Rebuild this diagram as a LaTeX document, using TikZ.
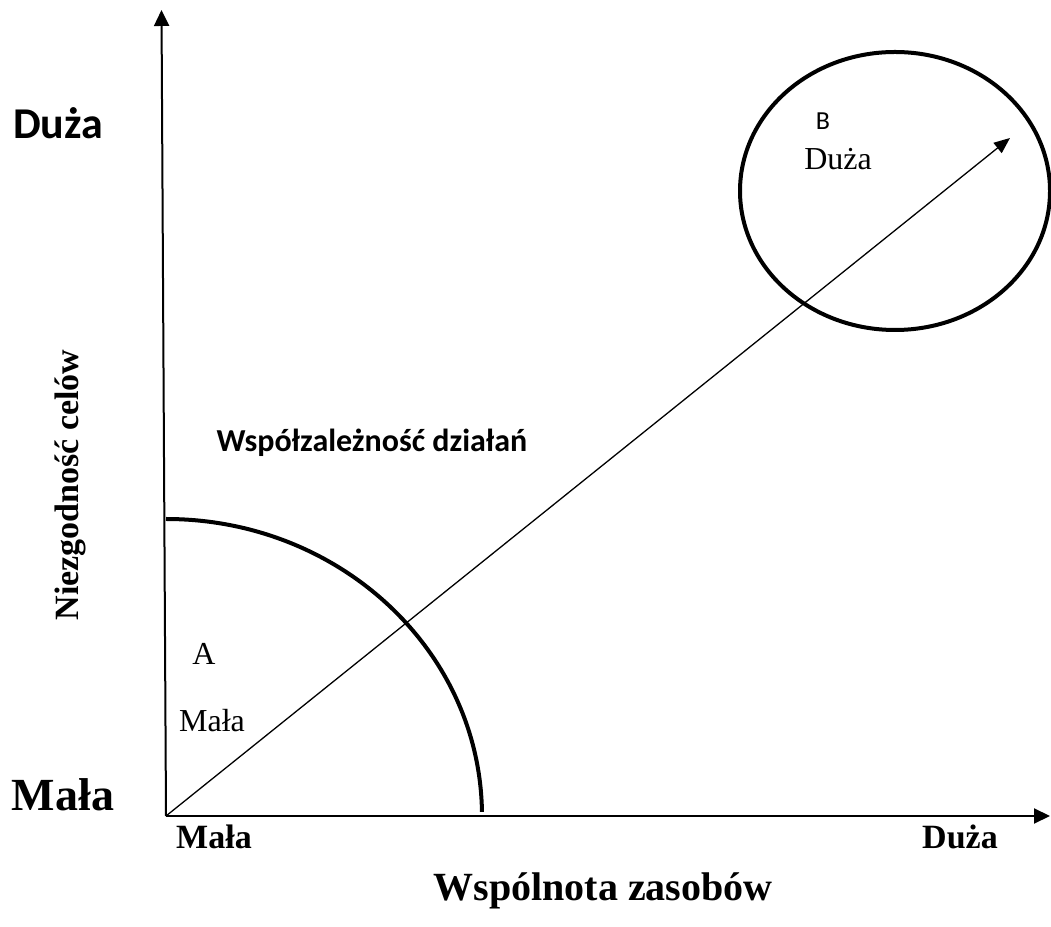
\documentclass[tikz,border=0pt]{standalone}
\usepackage{fontspec}
\setmainfont{Liberation Serif}
\newfontfamily\calib{Carlito}
\usetikzlibrary{arrows.meta,shapes.geometric}
\tikzset{
  axis/.style={line width=2pt,-{Triangle[length=16pt,width=15pt]}},
  diag/.style={line width=1.3pt,-{Triangle[length=16pt,width=13pt]}},
  thick curve/.style={line width=4pt},
  serifb/.style={font=\fontsize{34}{38}\selectfont\bfseries,anchor=base,inner sep=0pt},
  serifr/.style={font=\fontsize{32}{38}\selectfont,anchor=base,inner sep=0pt},
  sansb/.style={font=\fontsize{32}{38}\selectfont\calib\bfseries,anchor=base,inner sep=0pt},
  sansr/.style={font=\fontsize{26}{30}\selectfont\calib,anchor=base,inner sep=0pt},
}
\begin{document}
\begin{tikzpicture}[x=1pt,y=1pt]
\useasboundingbox (0,0) rectangle (1051,926);
\coordinate (O) at (166,110);
\coordinate (Ytop) at (161.5,916);
\coordinate (Xend) at (1050,110);
\coordinate (Dtip) at (1010,788);
\coordinate (arcstart) at (166,407);
% circle
\node[draw,ellipse,thick curve,minimum width=310pt,minimum height=278pt,inner sep=0pt] (circ) at (895,735) {};
% quarter arc
\draw[thick curve] (arcstart) arc[start angle=90,end angle=0.8,x radius=316,y radius=297];
% axes
\draw[axis] (O) -- (Ytop);
\draw[axis] (O) -- (Xend);
\draw[diag] (O) -- (Dtip);
% labels
\node[sansb,font=\fontsize{44}{48}\selectfont\calib\bfseries] (ytopl) at (58,787) {Duża};
\node[serifb,font=\fontsize{46}{50}\selectfont\bfseries] (ylow) at (63,116) {Mała};
\node[serifb] (xlow) at (214,78) {Mała};
\node[serifb] (xhigh) at (960,78) {Duża};
\node[serifb,font=\fontsize{40}{44}\selectfont\bfseries] (xtitle) at (603,26) {Wspólnota zasobów};
\node[serifb,font=\fontsize{34}{38}\selectfont\bfseries,rotate=90,anchor=center] (ytitle) at (70,441) {Niezgodność celów};
\node[sansb] (wsp) at (372,474) {Współzależność działań};
\node[serifr] (A) at (204,261) {A};
\node[serifr] (amala) at (212,194) {Mała};
\node[sansr] (B) at (823,796) {B};
\node[serifr] (bduza) at (838,756) {Duża};
\end{tikzpicture}
\end{document}
